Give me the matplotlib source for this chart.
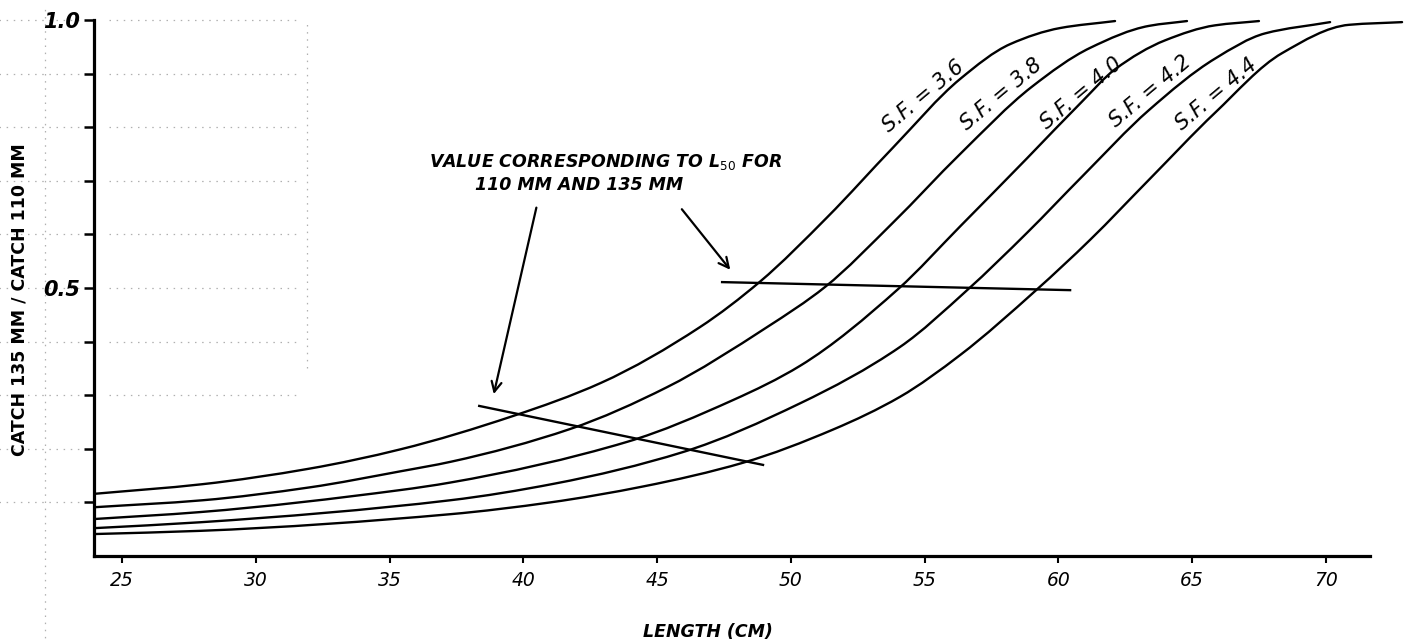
import matplotlib
matplotlib.use("Agg")
import matplotlib.pyplot as plt
from matplotlib.path import Path
from matplotlib.patches import PathPatch
import numpy as np

plt.rcParams['font.family'] = ['DejaVu Sans']

# ---- data -------------------------------------------------------------
sf_labels = ["S.F. = 3.6", "S.F. = 3.8", "S.F. = 4.0", "S.F. = 4.2", "S.F. = 4.4"]

x_36 = [23.95, 28.0, 32.0, 35.4, 39.6, 42.9, 46.6, 48.85, 51.36, 53.82,
        56.33, 58.2, 60.07, 62.12]
y_36 = [0.116, 0.134, 0.163, 0.199, 0.261, 0.323, 0.427, 0.512, 0.632, 0.762,
        0.890, 0.955, 0.985, 0.998]

x_38 = [23.95, 28.0, 32.0, 35.4, 37.3, 41.75, 45.37, 49.11, 51.28, 53.82,
        56.33, 59.0, 61.19, 63.39, 64.81]
y_38 = [0.091, 0.104, 0.128, 0.158, 0.176, 0.237, 0.315, 0.427, 0.502, 0.622,
        0.750, 0.875, 0.948, 0.989, 0.998]

x_40 = [23.95, 27.92, 35.39, 37.26, 43.88, 47.84, 50.35, 54.01, 56.33,
        58.83, 60.89, 62.12, 63.99, 65.86, 67.50]
y_40 = [0.069, 0.082, 0.123, 0.137, 0.213, 0.291, 0.355, 0.498, 0.615,
        0.742, 0.848, 0.908, 0.962, 0.990, 0.998]

x_42 = [23.95, 27.92, 37.26, 41.16, 45.97, 50.35, 54.08, 56.59, 58.83,
        60.89, 63.39, 65.86, 67.73, 70.16]
y_42 = [0.052, 0.063, 0.104, 0.135, 0.194, 0.285, 0.390, 0.496, 0.603,
        0.708, 0.832, 0.928, 0.975, 0.996]

x_44 = [23.95, 27.92, 37.26, 41.0, 44.5, 48.21, 51.58, 54.08, 56.33, 59.17,
        61.19, 63.39, 65.86, 68.36, 70.87, 72.85]
y_44 = [0.041, 0.047, 0.078, 0.100, 0.130, 0.174, 0.236, 0.297, 0.375, 0.496,
        0.590, 0.702, 0.827, 0.938, 0.991, 0.996]

curves_x = [x_36, x_38, x_40, x_42, x_44]
curves_y = [y_36, y_38, y_40, y_42, y_44]

# L50 marker lines
l50_upper_x = [47.43, 60.44]
l50_upper_y = [0.511, 0.496]
l50_lower_x = [38.35, 48.96]
l50_lower_y = [0.280, 0.170]

# curve label anchor points (centre of text)
label_x = [54.95, 57.85, 60.85, 63.45, 65.90]
label_y = [0.858, 0.861, 0.863, 0.867, 0.861]

x_ticks = [25, 30, 35, 40, 45, 50, 55, 60, 65, 70]
y_ticks = [0.1, 0.2, 0.3, 0.4, 0.5, 0.6, 0.7, 0.8, 0.9, 1.0]
y_ticklabels = ["", "", "", "", "0.5", "", "", "", "", "1.0"]

annot_line1 = "VALUE CORRESPONDING TO L$_{50}$ FOR"
annot_line2 = "110 MM AND 135 MM"

# faint graph-paper show-through (scan artefact) levels
paper_levels = [0.1, 0.2, 0.3, 0.4, 0.5, 0.6, 0.7, 0.8, 0.9, 1.0]


def smooth_path(xs, ys):
    """Monotone cubic Hermite segments drawn as Bezier curves through the points."""
    x = np.asarray(xs, float)
    y = np.asarray(ys, float)
    h = np.diff(x)
    d = np.diff(y) / h
    m = np.zeros_like(y)
    m[0], m[-1] = d[0], d[-1]
    for i in range(1, len(x) - 1):
        if d[i - 1] * d[i] <= 0:
            m[i] = 0.0
        else:
            w1 = 2 * h[i] + h[i - 1]
            w2 = h[i] + 2 * h[i - 1]
            m[i] = (w1 + w2) / (w1 / d[i - 1] + w2 / d[i])
    verts = [(x[0], y[0])]
    codes = [Path.MOVETO]
    for i in range(len(x) - 1):
        verts += [(x[i] + h[i] / 3, y[i] + m[i] * h[i] / 3),
                  (x[i + 1] - h[i] / 3, y[i + 1] - m[i + 1] * h[i] / 3),
                  (x[i + 1], y[i + 1])]
        codes += [Path.CURVE4] * 3
    return Path(verts, codes)


# ---- figure -----------------------------------------------------------
fig = plt.figure(figsize=(14.12, 6.44), dpi=100)
ax = fig.add_axes([0.0666, 0.1366, 0.9292, 0.8407])
ax.set_xlim(23.95, 73.0)
ax.set_ylim(0.0, 1.01)

# graph paper artefacts (faint, broken dotted lines)
paper_style = dict(color="#b0b0b0", lw=0.9, ls=(0, (1.2, 4.5)), zorder=0)
for lev in paper_levels:
    ax.plot([20.4, 23.6], [lev, lev], clip_on=False, **paper_style)
    if lev >= 0.3:
        ax.plot([24.5, 31.5], [lev, lev], **paper_style)
ax.plot([22.1, 22.1], [-0.17, 1.03], clip_on=False, **paper_style)
ax.plot([31.9, 31.9], [0.35, 1.0], **paper_style)

for xs, ys in zip(curves_x, curves_y):
    ax.add_patch(PathPatch(smooth_path(xs, ys), facecolor="none",
                           edgecolor="black", lw=1.7, capstyle="round"))

ax.plot(l50_upper_x, l50_upper_y, color="black", lw=1.7)
ax.plot(l50_lower_x, l50_lower_y, color="black", lw=1.7)

for lab, lx, ly in zip(sf_labels, label_x, label_y):
    ax.text(lx, ly, lab, rotation=40, rotation_mode="anchor",
            ha="center", va="center", fontsize=15, fontstyle="italic")

# annotation
ax.text(43.06, 0.735, annot_line1, ha="center", va="center",
        fontsize=12.5, fontstyle="italic", fontweight="bold")
ax.text(42.10, 0.693, annot_line2, ha="center", va="center",
        fontsize=12.5, fontstyle="italic", fontweight="bold")
ax.annotate("", xy=(38.87, 0.297), xytext=(40.51, 0.655),
            arrowprops=dict(arrowstyle="->", color="black", lw=1.6,
                            mutation_scale=18))
ax.annotate("", xy=(47.80, 0.530), xytext=(45.86, 0.651),
            arrowprops=dict(arrowstyle="->", color="black", lw=1.6,
                            mutation_scale=18))

# axes styling
for s in ["top", "right"]:
    ax.spines[s].set_visible(False)
ax.spines["left"].set_linewidth(2.3)
ax.spines["bottom"].set_linewidth(2.3)
ax.spines["left"].set_bounds(0.0, 1.0)
ax.spines["bottom"].set_bounds(23.95, 71.65)

ax.set_xticks(x_ticks)
ax.set_xticklabels([str(t) for t in x_ticks], fontsize=13.5, fontstyle="italic")
ax.set_yticks(y_ticks)
ax.set_yticklabels(y_ticklabels, fontsize=15, fontstyle="italic",
                   fontweight="bold")
ax.tick_params(axis="x", direction="out", length=5, width=1.5, pad=6)
ax.tick_params(axis="y", direction="out", length=7, width=1.8, pad=3)

fig.text(708 / 1412, 1 - 632 / 644, "LENGTH (CM)", ha="center", va="center",
         fontsize=12.5, fontstyle="italic", fontweight="bold")
fig.text(20 / 1412, 1 - 300 / 644, "CATCH 135 MM / CATCH 110 MM", ha="center",
         va="center", rotation=90, fontsize=12.5, fontweight="bold")

fig.savefig("out.png", dpi=100)
